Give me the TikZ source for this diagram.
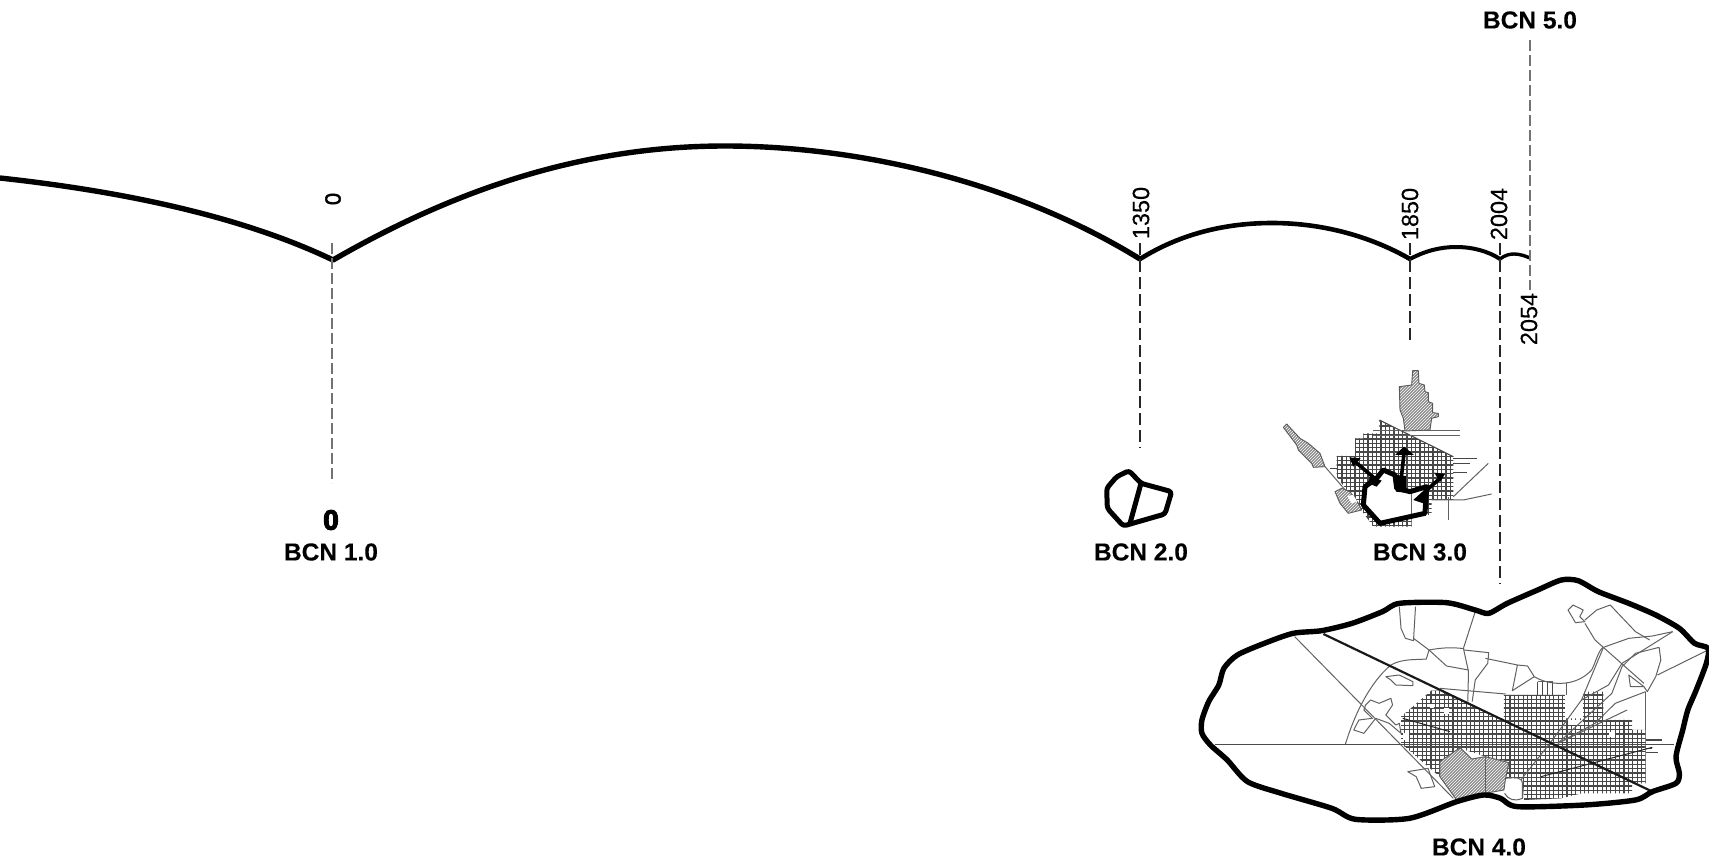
\documentclass[tikz,border=0pt]{standalone}
\usepackage{fontspec}
\setmainfont{Liberation Sans}
\newfontface\heavyface[FakeBold=4]{Liberation Sans Bold}
\newfontface\eraface[FakeBold=0.25]{Liberation Sans Bold}
\newfontface\yearface[FakeBold=0.3]{Liberation Sans}
\newfontface\smallzeroface[FakeBold=2]{Liberation Sans}
\usepackage{tikz}
\usetikzlibrary{positioning,patterns}
\newcommand{\bcnfont}{\fontsize{24.5}{28}\eraface}
\newcommand{\yearfont}{\fontsize{23.5}{26}\yearface}
\newcommand{\zerofont}{\fontsize{28}{30}\heavyface}

\begin{document}
\begin{tikzpicture}[x=1pt,y=-1pt,on grid]
	\tikzstyle{era}=[inner sep=0pt,font=\bcnfont]
	\tikzstyle{year}=[inner sep=0pt,rotate=90,font=\yearfont]
	\tikzstyle{epoch}=[line width=5.4pt,line join=round]
	\tikzstyle{faint}=[draw=black!55,line width=1.1pt,dash pattern=on 11pt off 4pt]
	\tikzstyle{strong}=[draw=black!85,line width=1.9pt,dash pattern=on 12pt off 5pt]
	\tikzstyle{wall}=[line width=5pt,line join=round,line cap=round]
	\tikzstyle{road}=[draw=black!62,line width=1pt,line join=round]
	\tikzstyle{street}=[draw=black!72,line width=1.1pt]
	\tikzstyle{hatched}=[draw=black!65,line width=0.9pt,line join=round,preaction={fill=black!45},pattern=north east lines,pattern color=white]

	\useasboundingbox (0,0) rectangle (1709,860);

	%
	% time line
	%
	\coordinate (start) at (0,178);
	\coordinate (cusp-0) at (333,260);
	\coordinate (top-0) at (725,146);
	\coordinate (cusp-1350) at (1140,259);
	\coordinate (top-1350) at (1272,223);
	\coordinate (cusp-1850) at (1410,259);
	\coordinate (top-1850) at (1456,247);
	\coordinate (cusp-2004) at (1500,259);
	\coordinate (top-2004) at (1514,254);
	\coordinate (cusp-2054) at (1530,258);

	\draw [epoch] (start) .. controls (110,190) and (235,213) .. (cusp-0)
		.. controls (463,185) and (590,146) .. (top-0)
		.. controls (860,146) and (1015,182) .. (cusp-1350);
	\draw [epoch,line width=4.6pt] (cusp-1350) .. controls (1180,234) and (1225,223) .. (top-1350)
		.. controls (1322,223) and (1370,236) .. (cusp-1850);
	\draw [epoch,line width=4pt] (cusp-1850) .. controls (1425,251) and (1440,247) .. (top-1850)
		.. controls (1472,247) and (1488,251) .. (cusp-2004);
	\draw [epoch,line width=3.4pt] (cusp-2004) .. controls (1505,255) and (1510,254) .. (top-2004)
		.. controls (1520,254) and (1525,256) .. (cusp-2054);

	%
	% years and titles
	%
	\node [year,font=\fontsize{22}{24}\smallzeroface] (year-0) at (333,199) {0};
	\node [year] (year-1350) at (1141,213) {1350};
	\node [year] (year-1850) at (1410,214) {1850};
	\node [year] (year-2004) at (1499,214) {2004};
	\node [year] (year-2054) at (1529,319) {2054};

	\node [era] (bcn-1) at (331,552) {BCN 1.0};
	\node [inner sep=0pt,font=\zerofont,above=32pt of bcn-1] (zero) {0};
	\node [era] (bcn-2) at (1141,552) {BCN 2.0};
	\node [era,right=279pt of bcn-2] (bcn-3) {BCN 3.0};
	\node [era] (bcn-4) at (1479,847) {BCN 4.0};
	\node [era] (bcn-5) at (1530,20) {BCN 5.0};

	%
	% dashed leaders
	%
	\coordinate (end-0) at (332,483);
	\coordinate (end-1350) at (1140,448);
	\coordinate (end-1850) at (1410,343);
	\coordinate (end-2004) at (1500,584);
	\coordinate (end-2054) at (1530,290);
	\coordinate (tip-0) at (332,243);
	\coordinate (tip-1350) at (1140,243);
	\coordinate (tip-1850) at (1410,243);
	\coordinate (tip-2004) at (1500,243);
	\coordinate (tip-2054) at (1530,40);

	\draw [faint] (tip-0) -- (end-0);
	\draw [strong] (tip-1350) -- (end-1350);
	\draw [strong] (tip-1850) -- (end-1850);
	\draw [strong] (tip-2004) -- (end-2004);
	\draw [faint] (tip-2054) -- (end-2054);

	%
	% BCN 2.0 walls
	%
	\begin{scope}[shift={(1080,440)},x=0.3333pt,y=-0.3333pt]
		\draw [wall,rounded corners=3pt] (80,145) -- (110,110) -- (147,92) -- (183,130) -- (275,155) -- (255,222) -- (130,258) -- (82,205) -- cycle;
		\draw [wall] (183,130) -- (150,250);
	\end{scope}

	%
	% BCN 3.0 plan
	%
	\begin{scope}[shift={(1240,350)},x=0.3333pt,y=-0.3333pt]
		\begin{scope}
			\clip (290,318) -- (345,318) -- (345,265) -- (370,265) -- (370,250) -- (418,250) -- (418,210) -- (640,320) -- (640,450) -- (575,450) -- (575,495) -- (515,495) -- (515,530) -- (400,530) -- (320,420) -- (290,380) -- cycle;
			\foreach \x in {293,306,...,640}
				\draw [street] (\x,200) -- (\x,540);
			\foreach \y in {215,228,...,530}
				\draw [street] (280,\y) -- (650,\y);
		\end{scope}
		\fill [white] (370,465) -- (375,410) -- (410,385) -- (430,360) -- (465,375) -- (470,415) -- (510,425) -- (560,410) -- (555,490) -- (420,520) -- cycle;
		\draw [street] (418,210) -- (640,320);
		\draw [road] (400,243) -- (660,243);
		\draw [road] (400,256) -- (660,256);
		\draw [street] (640,325) -- (712,325);
		\draw [street] (640,340) -- (690,340);
		\draw [street] (640,368) -- (680,368);
		\draw [street] (270,355) -- (290,355);
		\draw [road] (625,440) -- (625,510);
		\draw [road] (515,420) -- (515,495);
		\draw [road] (255,350) -- (320,425);
		\draw [road] (745,340) -- (640,440);
		\draw [road] (755,432) -- (670,450) -- (575,450);
		\draw [hatched] (518,62) -- (535,62) -- (537,100) -- (553,105) -- (555,125) -- (565,128) -- (565,155) -- (578,160) -- (578,188) -- (595,190) -- (595,200) -- (575,205) -- (570,240) -- (495,243) -- (490,205) -- (480,180) -- (478,110) -- (515,105) -- cycle;
		\draw [hatched] (130,232) -- (140,222) -- (180,265) -- (205,280) -- (240,310) -- (255,350) -- (220,352) -- (215,340) -- (175,300) -- (170,285) -- cycle;
		\draw [hatched] (285,425) -- (305,415) -- (330,425) -- (355,460) -- (365,480) -- (325,490) -- (300,460) -- cycle;
		\fill [white] (322,438) -- (340,435) -- (352,455) -- (335,460) -- cycle;
		\draw [wall] (370,465) -- (375,410) -- (410,385) -- (430,360) -- (465,375) -- (470,415) -- (510,425) -- (560,410) -- (555,490) -- (420,520) -- cycle;
		\draw [wall,line width=3.6pt] (345,335) -- (410,390);
		\fill (328,322) -- (362,325) -- (340,350) -- cycle;
		\fill (390,378) -- (425,392) -- (410,410) -- (385,400) -- cycle;
		\draw [wall,line width=3.6pt] (492,310) -- (480,420);
		\fill (465,315) -- (492,290) -- (522,315) -- cycle;
		\fill (468,375) -- (498,378) -- (498,428) -- (468,425) -- cycle;
		\draw [wall,line width=3.6pt] (600,385) -- (555,425);
		\fill (583,368) -- (615,372) -- (600,397) -- cycle;
		\fill (520,450) -- (558,415) -- (565,465) -- cycle;
	\end{scope}

	%
	% BCN 4.0 plan
	%
	\begin{scope}[shift={(1180,560)},x=0.3374pt,y=-0.3333pt]
		%
		% street grid
		%
		\begin{scope}
			\clip (655,470) -- (745,392) -- (780,392) -- (960,480) -- (960,405) -- (1141,405) -- (1141,475) -- (1195,475) -- (1195,395) -- (1255,395) -- (1255,480) -- (1340,480) -- (1340,510) -- (1380,510) -- (1380,670) -- (1340,670) -- (1340,700) -- (1190,700) -- (1130,715) -- (1020,720) -- (1015,655) -- (965,655) -- (975,605) -- (905,590) -- (830,565) -- (770,605) -- (770,650) -- (655,550) -- cycle;
			\foreach \x in {653,666,...,1385}
				\draw [street] (\x,360) -- (\x,725);
			\foreach \y in {366,379,...,725}
				\draw [street] (650,\y) -- (1385,\y);
		\end{scope}
		\foreach \x in {1060,1075,1090,1105}
			\draw [street] (\x,365) -- (\x,405);
		\fill [white] (782,445) rectangle (796,462);
		\fill [white] (740,432) rectangle (754,445);
		\fill [white] (660,518) rectangle (680,540);
		\fill [white] (1270,515) rectangle (1290,530);
		\fill [white] (1150,480) -- (1195,480) -- (1195,495) -- (1150,495) -- cycle;
		%
		% hatched quarter
		%
		\draw [hatched] (830,563) -- (865,597) -- (905,590) -- (975,608) -- (965,655) -- (960,690) -- (905,700) -- (820,720) -- (770,650) -- (770,605) -- cycle;
		\draw [road,line width=1.4pt] (905,590) -- (905,700);
		\draw [road] (965,655) .. controls (1000,650) and (1015,655) .. (1015,670) -- (1015,715) .. controls (990,725) and (975,720) .. (962,700);
		%
		% roads
		%
		\draw [road] (340,230) -- (655,555) -- (810,715);
		\draw [road] (490,553) .. controls (515,470) and (560,370) .. (625,315) .. controls (660,295) and (700,300) .. (730,297) -- (738,270) .. controls (780,262) and (810,262) .. (842,266);
		\draw [road] (650,140) -- (655,205) -- (668,235) -- (692,242) -- (698,140);
		\draw [road] (692,235) -- (738,270) -- (790,318) -- (855,330);
		\draw [road] (875,155) -- (840,265) -- (855,335) -- (853,425);
		\draw [road] (842,270) -- (915,278) -- (912,310) -- (875,360) -- (866,425);
		\draw [road] (905,295) -- (1000,315) -- (985,392) -- (1050,350) -- (1030,318) -- (1000,315);
		\draw [road] (1050,350) .. controls (1090,375) and (1170,385) .. (1220,330) .. controls (1235,300) and (1240,270) .. (1255,262) -- (1330,235) -- (1400,228) -- (1460,215);
		\draw [road] (770,385) -- (965,402);
		\draw [road] (1060,365) -- (1105,365);
		\draw [road] (1150,150) -- (1165,135) -- (1195,150) -- (1185,170) -- (1200,185) -- (1172,188) -- cycle;
		\draw [road] (1200,180) -- (1235,150) -- (1275,135) -- (1350,215) -- (1392,240);
		\draw [road] (1200,190) -- (1230,240) -- (1375,370);
		\draw [road] (1310,320) -- (1350,280) -- (1420,262) -- (1425,300) -- (1410,350) -- (1385,395) -- (1375,380) -- (1335,380) -- (1330,345) -- (1375,380);
		\draw [road] (1565,270) -- (1415,345);
		\draw [road] (1460,215) -- (1310,310) -- (1270,375) -- (1190,420) -- (1100,545) -- (1010,660);
		\draw [road] (1255,262) -- (1190,420);
		\draw [road] (1310,320) -- (1280,400) -- (1120,550);
		\draw [road] (1380,395) -- (1290,430) -- (1230,490) -- (1120,550);
		\draw [road] (1325,450) -- (1120,550);
		\draw [road] (1380,395) -- (1380,510);
		\draw [road] (1145,370) -- (1145,405);
		\draw [street] (1380,540) -- (1428,540);
		\draw [street] (1380,565) -- (1400,565);
		\draw [street] (1380,578) -- (1418,578);
		\draw [road,draw=black!85] (1400,562) -- (1070,650);
		\draw [road,draw=black!85] (660,475) -- (800,515);
		\draw [road] (610,350) -- (650,345) -- (690,365) -- (690,377) -- (640,375) -- (625,360) -- cycle;
		\draw [road] (550,435) -- (565,420) -- (590,430) -- (625,415) -- (630,435) -- (610,465) -- (640,495) -- (650,490) -- (655,520) -- (620,490) -- (580,475) -- (545,520) -- (515,510) -- (530,480) -- (570,475) -- (545,450) -- cycle;
		\draw [road] (675,635) -- (735,625) -- (755,680) -- (715,685) -- (700,650) -- cycle;
		%
		% axes and boundary
		%
		\draw [draw=black!70,line width=1.2pt] (105,553) -- (1465,553);
		\draw [line width=2.2pt,draw=black!90] (425,222) -- (1400,695);
		\draw [wall,line width=5.4pt] plot [smooth cycle,tension=0.45] coordinates {(65,480) (85,425) (115,375) (130,325) (170,285) (250,250) (335,220) (420,212) (510,190) (600,155) (650,130) (790,128) (875,150) (915,160) (970,130) (1060,90) (1130,60) (1180,62) (1240,95) (1330,130) (1410,165) (1480,205) (1525,250) (1565,265) (1560,310) (1530,390) (1505,450) (1490,510) (1470,590) (1480,640) (1470,670) (1400,695) (1350,720) (1200,735) (1000,740) (950,715) (900,705) (820,725) (680,775) (520,778) (450,745) (300,700) (200,665) (140,600) (90,555) (65,520)};
	\end{scope}

\end{tikzpicture}
\end{document}
